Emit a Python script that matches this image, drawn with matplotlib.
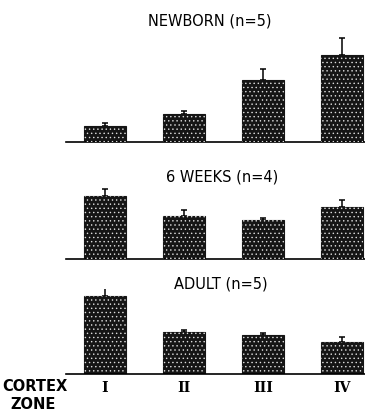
import matplotlib
matplotlib.use("Agg")
import matplotlib.pyplot as plt

zones = ["I", "II", "III", "IV"]
titles = ["NEWBORN (n=5)", "6 WEEKS (n=4)", "ADULT (n=5)"]

newborn = [16, 28, 62, 87]
newborn_err = [3.5, 3.5, 11, 17]
weeks6 = [63, 43, 39, 52]
weeks6_err = [7, 6, 2.5, 7]
adult = [78, 42, 39, 32]
adult_err = [9, 2, 2, 5]

plt.rcParams["hatch.linewidth"] = 0.5

W, H = 365, 414
fig = plt.figure(figsize=(W / 100, H / 100), dpi=100)

# (baseline px from top, axes height px, title y px)
panels = [
    (newborn, newborn_err, 143, 110, 21),
    (weeks6, weeks6_err, 260, 75, 177),
    (adult, adult_err, 375, 85, 284),
]
title_x = [210, 222, 221]

x = list(range(len(zones)))
left_px, right_px = 66, 365
first_px, step_px = 39, 79

for k, (vals, err, base, hgt, ty) in enumerate(panels):
    ax = fig.add_axes([left_px / W, (H - base) / H, (right_px - left_px) / W, hgt / H])
    ax.bar(x, vals, width=0.52, color="#151515", edgecolor="#151515", linewidth=0.8, zorder=2)
    ax.bar(x, vals, width=0.52, color="none", edgecolor="#dddddd", hatch="....", linewidth=0, zorder=3)
    ax.errorbar(x, vals, yerr=[[0] * 4, err], fmt="none", ecolor="black",
                elinewidth=1.1, capsize=2.2, capthick=1.1, zorder=1)
    ax.set_xlim(-first_px / step_px, (right_px - left_px - first_px) / step_px)
    ax.set_ylim(0, hgt)
    for s in ["left", "right", "top"]:
        ax.spines[s].set_visible(False)
    ax.spines["bottom"].set_linewidth(1.2)
    ax.set_yticks([])
    ax.tick_params(axis="x", length=0)
    if k < 2:
        ax.set_xticks([])
    else:
        ax.set_xticks(x)
        ax.set_xticklabels(zones, family="DejaVu Serif", fontweight="bold", fontsize=10)
        ax.tick_params(axis="x", pad=4)
    fig.text(title_x[k] / W, 1 - ty / H, titles[k], ha="center", va="center",
             fontsize=10.5, family="DejaVu Sans")

fig.text(35 / W, 1 - 387 / H, "CORTEX", ha="center", va="center", fontsize=10.5, fontweight="bold")
fig.text(33 / W, 1 - 405 / H, "ZONE", ha="center", va="center", fontsize=10.5, fontweight="bold")

fig.savefig("out.png", dpi=100, facecolor="white")
